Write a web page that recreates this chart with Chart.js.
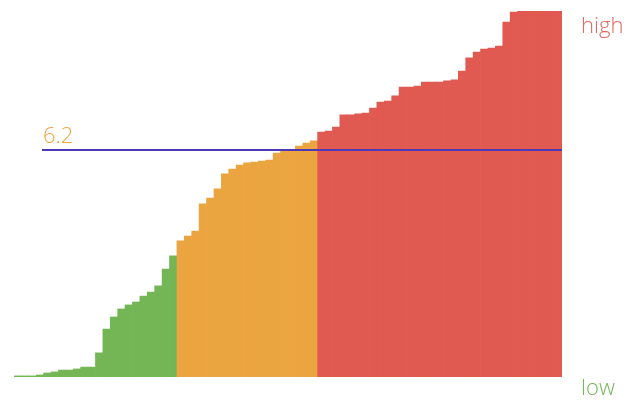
<!DOCTYPE html>
<html>
<head>
<meta charset="utf-8">
<script src="https://cdn.jsdelivr.net/npm/chart.js@4/dist/chart.umd.min.js"></script>
<style>
html,body{margin:0;padding:0;background:#fff;}
#wrap{width:642px;height:404px;position:relative;}
</style>
</head>
<body>
<div id="wrap"><canvas id="c"></canvas></div>
<script>
const values = [
  0.03, 0.03, 0.03, 0.055, 0.11, 0.14, 0.19, 0.19, 0.22, 0.27, 0.27, 0.66,
  1.31, 1.64, 1.86, 1.97, 2.05, 2.21, 2.32, 2.49, 2.95, 3.31,
  3.72, 3.85, 3.99, 4.73, 4.89, 5.14, 5.55, 5.68, 5.79, 5.85, 5.87, 5.90,
  5.93, 6.12, 6.18, 6.19, 6.31, 6.39, 6.45,
  6.69, 6.72, 6.83, 7.16, 7.16, 7.19, 7.21, 7.35, 7.51, 7.54, 7.68, 7.92,
  7.92, 7.95, 8.06, 8.06, 8.06, 8.09, 8.12, 8.36, 8.72, 8.88, 8.96, 8.99,
  9.04, 9.70, 9.97, 10.0, 10.0, 10.0, 10.0, 10.0, 10.0
];
const categories = values.map((v, i) => String(i + 1));
const threshold = 6.2;
const lowLimit = 3.5;
const highLimit = 6.5;
const yMin = 0, yMax = 10;
const labelHigh = 'high';
const labelLow = 'low';

const GREEN = 'rgb(116,181,86)';
const ORANGE = 'rgb(235,165,64)';
const RED = 'rgb(224,90,82)';
const LINE = 'rgb(78,56,184)';

const colors = values.map(v => v < lowLimit ? GREEN : (v < highLimit ? ORANGE : RED));

const overlay = {
  id: 'overlay',
  afterDatasetsDraw(chart) {
    const {ctx, chartArea, scales} = chart;
    const y = scales.y.getPixelForValue(threshold);
    const x0 = chartArea.left + 28;
    ctx.save();
    ctx.strokeStyle = LINE;
    ctx.lineWidth = 2;
    ctx.beginPath();
    ctx.moveTo(x0, y);
    ctx.lineTo(chartArea.right, y);
    ctx.stroke();
    ctx.font = '300 22px "Open Sans", Lato, sans-serif';
    ctx.fillStyle = ORANGE;
    ctx.textAlign = 'left';
    ctx.textBaseline = 'alphabetic';
    ctx.fillText(threshold.toFixed(1), x0 + 1, y - 7);
    ctx.fillStyle = 'rgb(226,104,98)';
    ctx.fillText(labelHigh, chartArea.right + 19, chartArea.top + 22);
    ctx.fillStyle = GREEN;
    ctx.fillText(labelLow, chartArea.right + 19, chartArea.bottom + 18);
    ctx.restore();
  }
};

new Chart(document.getElementById('c'), {
  type: 'bar',
  data: {
    labels: categories,
    datasets: [{
      data: values,
      backgroundColor: colors,
      borderWidth: 0,
      categoryPercentage: 1.0,
      barPercentage: 1.0
    }]
  },
  options: {
    responsive: true,
    maintainAspectRatio: false,
    animation: false,
    layout: { padding: { left: 14, right: 80, top: 11, bottom: 27 } },
    plugins: { legend: { display: false }, tooltip: { enabled: false } },
    scales: {
      x: { display: false, grid: { display: false } },
      y: { display: false, min: yMin, max: yMax, grid: { display: false } }
    }
  },
  plugins: [overlay]
});
</script>
</body>
</html>
